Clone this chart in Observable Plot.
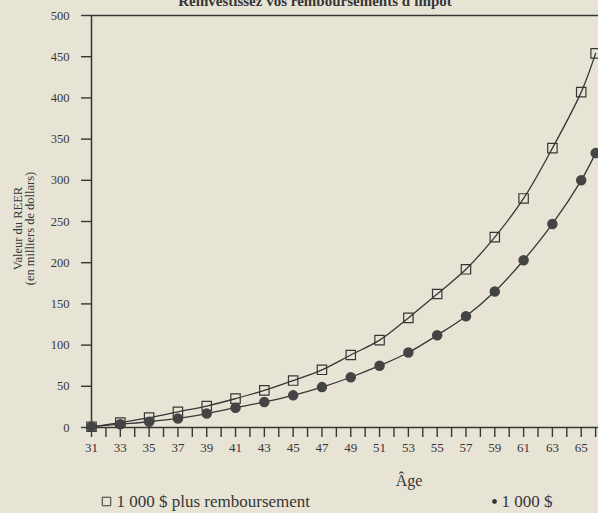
<!DOCTYPE html>
<html><head><meta charset="utf-8">
<script src="https://cdn.jsdelivr.net/npm/d3@7"></script>
<script src="https://cdn.jsdelivr.net/npm/@observablehq/plot@0.6"></script>
<style>
html,body{margin:0;padding:0;background:#e8e4d5;}
#chart{width:598px;height:513px;overflow:hidden;}
</style></head>
<body><div id="chart"></div>
<script>
const title = "Réinvestissez vos remboursements d'impôt";
const xLabel = "Âge";
const yLabel = "Valeur du REER\n(en milliers de dollars)";
const seriesNames = ["1 000 $ plus remboursement", "1 000 $"];
const ages = [31,33,35,37,39,41,43,45,47,49,51,53,55,57,59,61,63,65,66];
const avecRemboursement = [1,6,12,19,26,35,45,57,70,88,106,133,162,192,231,278,339,407,454];
const sansRemboursement = [1,4,7,11,17,24,31,39,49,61,75,91,112,135,165,203,247,300,333];
const yTicks = [0,50,100,150,200,250,300,350,400,450,500];
const xTicks = d3.range(31, 67);

const ink = "#363636";
const serif = "Liberation Serif, Times New Roman, serif";
const sq = ages.map((a, i) => ({age: a, value: avecRemboursement[i]}));
const ci = ages.map((a, i) => ({age: a, value: sansRemboursement[i]}));

const chart = Plot.plot({
  width: 598, height: 513,
  marginTop: 15, marginBottom: 86, marginLeft: 91, marginRight: 0,
  style: {background: "#e8e4d5", fontFamily: serif, color: ink, overflow: "visible"},
  x: {domain: [31, 66.2]},
  y: {domain: [0, 500]},
  marks: [
    Plot.ruleY([500], {stroke: ink, strokeWidth: 1.3}),
    Plot.ruleY([0], {stroke: ink, strokeWidth: 1.5}),
    Plot.ruleX([31], {stroke: ink, strokeWidth: 1.5}),
    Plot.axisY({ticks: yTicks, tickSize: 10, tickPadding: 12, fontSize: 12.5, stroke: ink, strokeWidth: 1.4, label: null}),
    Plot.axisX({ticks: xTicks, tickSize: 10, tickPadding: 5, fontSize: 13, stroke: ink, strokeWidth: 1.4, label: null,
      tickFormat: d => d % 2 === 1 && d <= 65 ? String(d) : ""}),
    Plot.line(sq, {x: "age", y: "value", curve: "catmull-rom", stroke: ink, strokeWidth: 1.3}),
    Plot.line(ci, {x: "age", y: "value", curve: "catmull-rom", stroke: ink, strokeWidth: 1.3}),
    Plot.dot(sq, {x: "age", y: "value", symbol: "square", r: 5.3, stroke: ink, strokeWidth: 1.2, fill: "none"}),
    Plot.dot(ci, {x: "age", y: "value", symbol: "circle", r: 4.5, fill: "#444", stroke: "#444"}),
    Plot.text([title], {frameAnchor: "top", dx: -30, dy: -10, lineAnchor: "bottom", fontSize: 15, fontWeight: "bold", fill: ink}),
    Plot.text([yLabel], {frameAnchor: "left", textAnchor: "middle", rotate: -90, dx: -67, dy: 7, fontSize: 12.5, lineHeight: 0.9, fill: ink}),
    Plot.text([xLabel], {frameAnchor: "bottom", dx: 64, dy: 58, lineAnchor: "bottom", fontSize: 16, fill: ink}),
    Plot.dot([0], {frameAnchor: "bottom-left", dx: 15, dy: 74, symbol: "square", r: 4.8, stroke: ink, strokeWidth: 1, fill: "none"}),
    Plot.text([seriesNames[0]], {frameAnchor: "bottom-left", dx: 25, dy: 79, textAnchor: "start", lineAnchor: "bottom", fontSize: 17, fill: ink}),
    Plot.dot([0], {frameAnchor: "bottom-left", dx: 403, dy: 74, r: 2.4, fill: ink}),
    Plot.text([seriesNames[1]], {frameAnchor: "bottom-left", dx: 410, dy: 79, textAnchor: "start", lineAnchor: "bottom", fontSize: 17, fill: ink})
  ]
});
document.getElementById("chart").appendChild(chart);
</script>
</body></html>
